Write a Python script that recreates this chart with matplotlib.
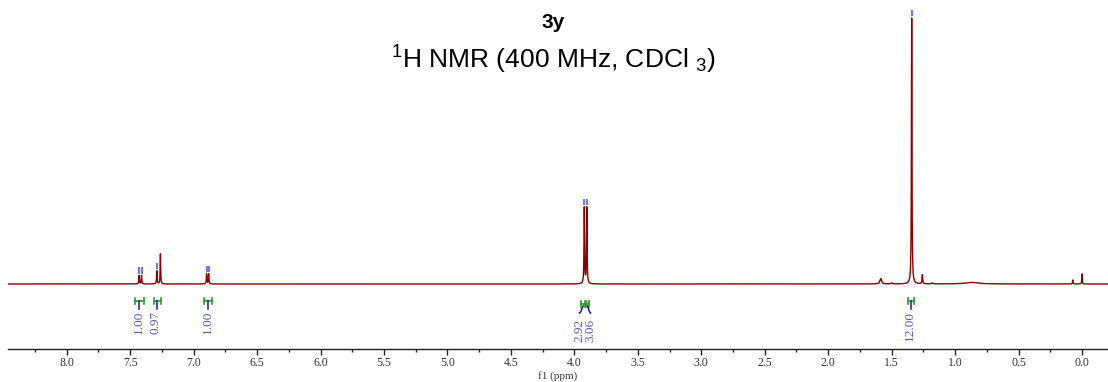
import numpy as np
import matplotlib
matplotlib.use("Agg")
import matplotlib.pyplot as plt
from matplotlib.ticker import MultipleLocator

plt.rcParams["mathtext.fontset"] = "custom"
plt.rcParams["mathtext.rm"] = "Liberation Sans"

# ---- spectrum peak list (ppm, relative height, half width in ppm) ----
shifts = [7.430, 7.411, 7.290, 7.262, 6.898, 6.882, 3.922, 3.902,
          1.586, 1.500, 1.342, 1.258, 1.180, 0.870, 0.073, 0.000]
heights = [3.2, 3.2, 4.9, 11.3, 3.8, 3.8, 28.6, 28.6,
           2.0, 0.4, 100.0, 3.4, 0.4, 0.6, 1.5, 3.8]
halfwidths = [0.0025, 0.0025, 0.0025, 0.0022, 0.0025, 0.0025, 0.0025, 0.0025,
              0.008, 0.006, 0.0025, 0.003, 0.006, 0.06, 0.002, 0.002]

# picked peaks (marked with small bars above the curve)
picked = [7.430, 7.411, 7.290, 6.898, 6.882, 3.922, 3.902, 1.342]

# integrals: region bounds, label position and value
int_start = [7.465, 7.315, 6.920, 3.945, 3.912, 1.370]
int_end = [7.395, 7.260, 6.855, 3.914, 3.885, 1.320]
int_label_pos = [7.430, 7.300, 6.887, 3.960, 3.872, 1.355]
int_values = ["1.00", "0.97", "1.00", "2.92", "3.06", "12.00"]

xticks = np.arange(0.0, 8.01, 0.5)
xlabels = [f"{v:.1f}" for v in xticks]

RED = "#8b0000"
PEAK_BLUE = "#7b7bcc"
INT_GREEN = "#2e9a2e"
INT_NAVY = "#1a1a8c"
INT_TEXT = "#5a5ab2"

fig = plt.figure(figsize=(11.08, 3.82), dpi=100)
ax = fig.add_axes([8 / 1108, 33 / 382, 1100 / 1108, 349 / 382])

grid = np.linspace(8.47, -0.21, 80001)
ppm = np.sort(np.concatenate([grid, shifts]))[::-1]
spec = np.zeros_like(ppm)
for s, h, w in zip(shifts, heights, halfwidths):
    spec += h * w ** 2 / ((ppm - s) ** 2 + w ** 2)

ax.plot(ppm, spec, color=RED, lw=1.0, solid_joinstyle="round")

# pixel -> data scale: 2.66 px per intensity unit
u = 1 / 2.66
ax.set_xlim(8.463, -0.205)
ax.set_ylim(-(349 - 284) * u, 284 * u)

# peak pick marks
order = np.argsort(ppm)
for s in picked:
    top = np.interp(s, ppm[order], spec[order])
    ax.plot([s, s], [top + 1.5 * u, top + 8 * u], color=PEAK_BLUE, lw=1.6,
            solid_capstyle="butt")

# integrals
for i, (a, b, lx, val) in enumerate(zip(int_start, int_end, int_label_pos, int_values)):
    paired = 3 <= i <= 4
    ybar = -(17 if not paired else 20) * u
    ax.plot([a, b], [ybar, ybar], color=INT_GREEN, lw=1.2)
    for e in (a, b):
        ax.plot([e, e], [ybar - 3 * u, ybar + 3 * u], color=INT_GREEN, lw=1.2)
    c = 0.5 * (a + b)
    if paired:
        xs = np.linspace(c, lx, 20)
        t = np.linspace(0, 1, 20)
        ys = ybar - 2 * u - (7 * u) * np.sin(t * np.pi / 2) ** 1.5
        ax.plot(xs, ys, color=INT_NAVY, lw=1.1)
        ytext = ybar - 15 * u
    else:
        ax.plot([c, c], [ybar, ybar - 8 * u], color=INT_NAVY, lw=1.1)
        ytext = ybar - 10 * u
    ax.text(lx, ytext, val, rotation=90, ha="center", va="top", color=INT_TEXT,
            fontsize=9.5, family="Liberation Serif")

# axis styling
for side in ("left", "right", "top"):
    ax.spines[side].set_visible(False)
ax.spines["bottom"].set_color("#222222")
ax.spines["bottom"].set_linewidth(1.0)
ax.set_yticks([])
ax.set_xticks(xticks)
ax.set_xticklabels(xlabels, family="Liberation Serif", fontsize=8.5, color="#333333")
ax.xaxis.set_minor_locator(MultipleLocator(0.25))
ax.tick_params(axis="x", which="major", direction="out", length=4, width=1,
               color="#222222", pad=2)
ax.tick_params(axis="x", which="minor", direction="out", length=2.5, width=1,
               color="#222222")
ax.set_xlabel("f1 (ppm)", family="Liberation Serif", fontsize=8, color="#333333",
              labelpad=1)
ax.patch.set_alpha(0)

fig.text(553 / 1108, 1 - 22 / 382, "3y", ha="center", va="center",
         fontsize=15, fontweight="bold", family="Liberation Sans")
fig.text(553 / 1108, 1 - 60 / 382,
         r"$\mathregular{^1}$H NMR (400 MHz, CDCl $\mathregular{_3}$)",
         ha="center", va="center", fontsize=19, family="Liberation Sans")

fig.savefig("out.png", dpi=100)
